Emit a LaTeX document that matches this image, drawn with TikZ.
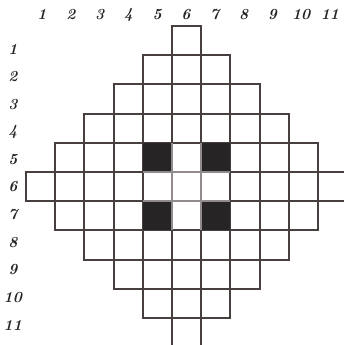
\documentclass[tikz,border=0pt]{standalone}
\usepackage{tikz}
\usetikzlibrary{calc}
\definecolor{ink}{RGB}{72,64,62}
\definecolor{blot}{RGB}{38,36,36}
\tikzset{
  cell/.style={draw=ink, line width=1.1pt},
  blackcell/.style={fill=blot},
  pale/.style={draw=ink!60, line width=1.2pt},
  numlabel/.style={font=\small\itshape\bfseries, text=blot, inner sep=0pt}
}
\begin{document}
\begin{tikzpicture}[x=0.6cm, y=-0.6cm]
    \useasboundingbox (-0.89,-0.89) rectangle (10.89,10.925);
    \clip (-0.89,-0.89) rectangle (10.89,10.925);

    % column numbers
    \foreach \c in {1,...,11}
      \node[numlabel] (col\c) at ({0.55+0.986*(\c-1)},-0.38) {\c};

    % row numbers
    \foreach \r in {1,...,11}
      \node[numlabel] (row\r) at (-0.45,{0.79+0.945*(\r-1)}) {\r};

    % diamond of cells
    \foreach \r in {1,...,11}
      \foreach \c in {1,...,11}{
        \pgfmathtruncatemacro{\dist}{abs(\r-6)+abs(\c-6)}
        \ifnum\dist<6
          \draw[cell] (\c-1,\r-1) rectangle (\c,\r);
        \fi
      }

    % black cells
    \foreach \c/\r in {5/5, 7/5, 5/7, 7/7}
      \fill[blackcell] (\c-1,\r-1) rectangle (\c,\r);

    % pale lines inside the middle block
    \foreach \k in {5,6}{
      \draw[pale] (\k,4) -- (\k,7);
      \draw[pale] (4,\k) -- (7,\k);
    }

\end{tikzpicture}
\end{document}
